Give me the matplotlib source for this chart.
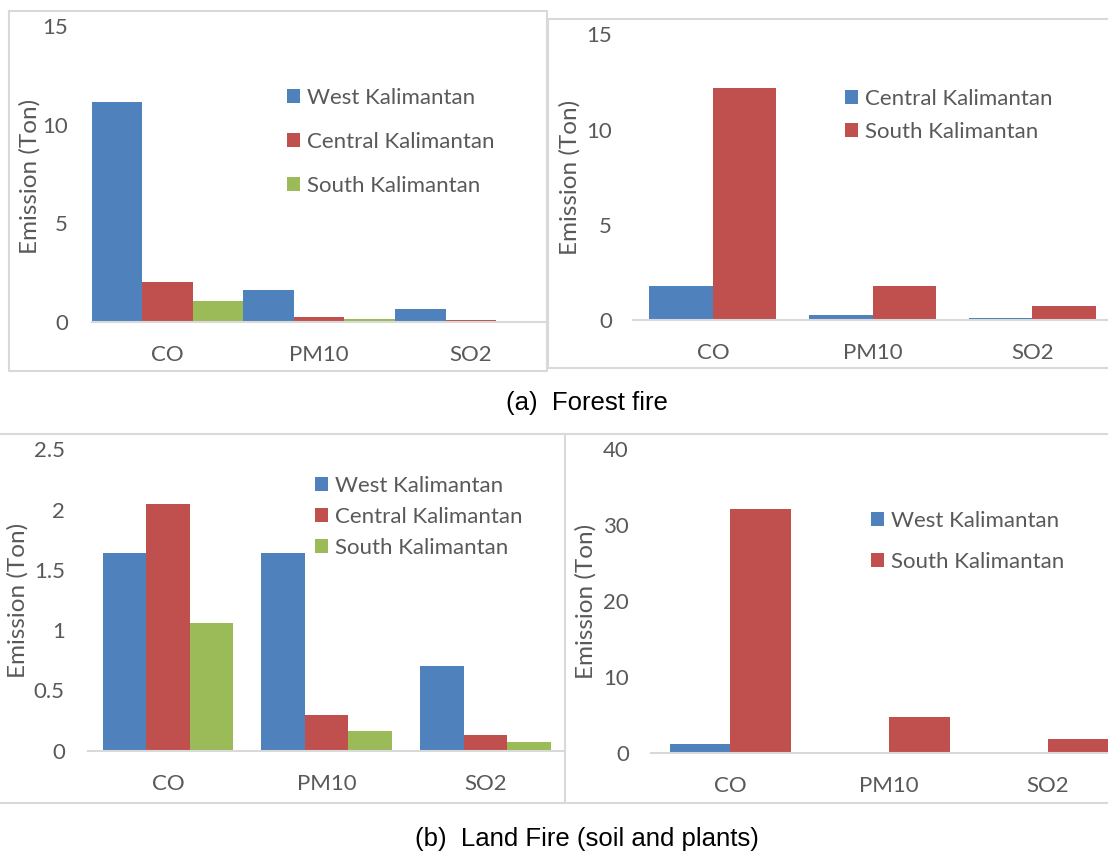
import numpy as np
import matplotlib
matplotlib.use("Agg")
import matplotlib.pyplot as plt
from matplotlib.lines import Line2D

plt.rcParams['font.family'] = ['Lato', 'DejaVu Sans']

W, H = 1108, 852

pollutants = ['CO', 'PM10', 'SO2']

# (a) forest fire, three provinces
forest_west = [11.13, 1.60, 0.66]
forest_central = [2.01, 0.25, 0.09]
forest_south = [1.03, 0.15, 0.03]

# (a) forest fire, second inventory
forest2_central = [1.78, 0.26, 0.10]
forest2_south = [12.16, 1.78, 0.75]

# (b) land fire, three provinces
land_west = [1.64, 1.64, 0.70]
land_central = [2.05, 0.30, 0.13]
land_south = [1.06, 0.16, 0.07]

# (b) land fire, second inventory
land2_west = [1.18, 0.18, 0.03]
land2_south = [32.1, 4.73, 1.93]

BLUE = '#4F81BD'
RED = '#C0504D'
GREEN = '#9BBB59'
TXT = '#595959'
GRID = '#D9D9D9'
FS = 16


def px_axes(x0, x1, ytop, ybot):
    return [x0 / W, 1 - ybot / H, (x1 - x0) / W, (ybot - ytop) / H]


def draw_panel(ax, series, labels, colors, bw, ymax, yticks, ypad, leg_xy, leg_space):
    x = np.arange(len(pollutants))
    n = len(series)
    offs = (np.arange(n) - (n - 1) / 2) * bw
    for vals, lab, col, o in zip(series, labels, colors, offs):
        ax.bar(x + o, vals, bw, color=col, label=lab, linewidth=0)
    ax.set_xlim(-0.5, 2.5)
    ax.set_ylim(0, ymax)
    ax.set_yticks(yticks)
    ax.set_yticklabels([f'{t:g}' for t in yticks])
    ax.set_xticks(x)
    ax.set_xticklabels(pollutants)
    for s in ['top', 'right', 'left']:
        ax.spines[s].set_visible(False)
    ax.spines['bottom'].set_color(GRID)
    ax.spines['bottom'].set_linewidth(1.5)
    ax.tick_params(axis='both', length=0, labelsize=FS, labelcolor=TXT)
    ax.tick_params(axis='y', pad=ypad)
    ax.tick_params(axis='x', pad=16.5)
    ax.patch.set_alpha(0)
    ax.legend(loc='upper left', bbox_to_anchor=(leg_xy[0] / W, 1 - leg_xy[1] / H),
              bbox_transform=fig.transFigure, frameon=False, fontsize=FS,
              labelcolor=TXT, handlelength=0.6, handleheight=0.6,
              handletextpad=0.3, labelspacing=leg_space, borderpad=0,
              borderaxespad=0)


fig = plt.figure(figsize=(W / 100, H / 100), dpi=100)

# panel borders and separators
def fline(xs, ys):
    fig.add_artist(Line2D([v / W for v in xs], [1 - v / H for v in ys],
                          color=GRID, linewidth=1.5))

fline([8.7, 547, 547, 8.7, 8.7], [11.3, 11.3, 371, 371, 11.3])
fline([1110, 548.3, 548.3, 1110], [19, 19, 368.3, 368.3])
fline([0, 1108], [434.3, 434.3])
fline([0, 1108], [803.3, 803.3])
fline([565, 565], [434.3, 803.3])

axA = fig.add_axes(px_axes(91.7, 546.7, 26, 321.7))
draw_panel(axA, [forest_west, forest_central, forest_south],
           ['West Kalimantan', 'Central Kalimantan', 'South Kalimantan'],
           [BLUE, RED, GREEN], 1 / 3, 15, [0, 5, 10, 15], 17, (287, 88), 1.07)

axB = fig.add_axes(px_axes(633, 1112, 34.3, 320))
draw_panel(axB, [forest2_central, forest2_south],
           ['Central Kalimantan', 'South Kalimantan'],
           [BLUE, RED], 0.397, 15, [0, 5, 10, 15], 15, (845, 89), 0.57)

axC = fig.add_axes(px_axes(88.4, 565, 449.3, 750.7))
draw_panel(axC, [land_west, land_central, land_south],
           ['West Kalimantan', 'Central Kalimantan', 'South Kalimantan'],
           [BLUE, RED, GREEN], 0.274, 2.5, [0, 0.5, 1, 1.5, 2, 2.5], 17, (315, 476), 0.49)

axD = fig.add_axes(px_axes(651, 1127.5, 449, 753.3))
draw_panel(axD, [land2_west, land2_south],
           ['West Kalimantan', 'South Kalimantan'],
           [BLUE, RED], 0.381, 40, [0, 10, 20, 30, 40], 16, (871, 511), 0.94)

for (xp, yp) in [(30, 176), (570, 177), (17.5, 600), (586, 601)]:
    fig.text(xp / W, 1 - yp / H, 'Emission (Ton)', rotation=90, ha='center',
             va='center', fontsize=17.5, color=TXT)

fig.text(587 / W, 1 - 403 / H, '(a)  Forest fire', ha='center', va='center',
         fontsize=18.5, family='Liberation Sans', color='black')
fig.text(587 / W, 1 - 839 / H, '(b)  Land Fire (soil and plants)', ha='center',
         va='center', fontsize=18.5, family='Liberation Sans', color='black')

fig.savefig('out.png', dpi=100)
